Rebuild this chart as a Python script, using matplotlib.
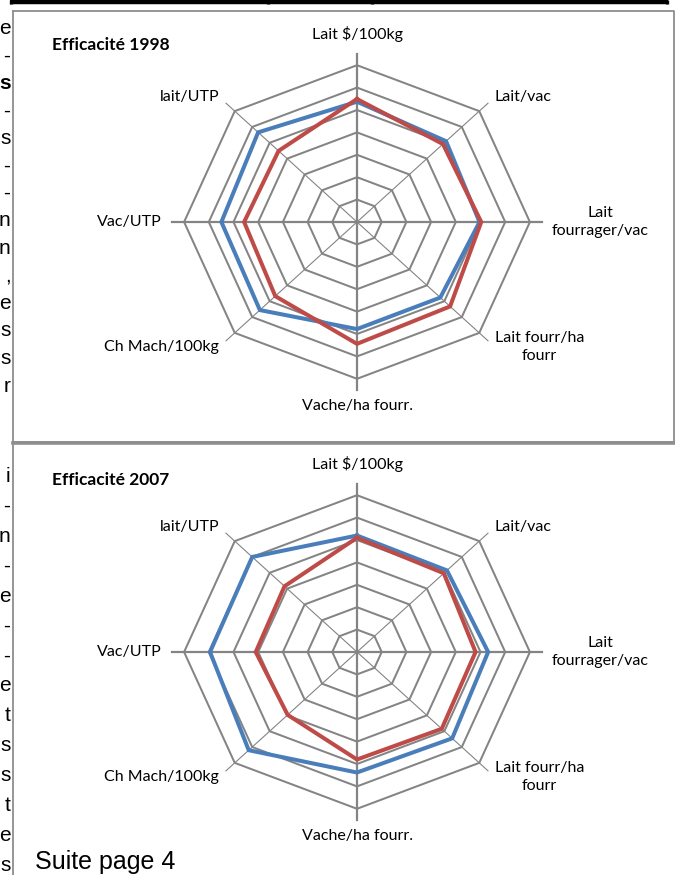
import numpy as np
import matplotlib
matplotlib.use("Agg")
import matplotlib.pyplot as plt

# radar axes, clockwise from the top
categories = ["Lait $/100kg", "Lait/vac", "Lait\nfourrager/vac", "Lait fourr/ha\nfourr",
              "Vache/ha fourr.", "Ch Mach/100kg", "Vac/UTP", "lait/UTP"]

blue_1998 = [5.37, 5.10, 4.96, 4.77, 4.78, 5.56, 5.49, 5.66]
red_1998 = [5.49, 4.92, 5.03, 5.33, 5.44, 4.68, 4.57, 4.49]
blue_2007 = [5.20, 5.15, 5.31, 5.45, 5.38, 6.20, 5.95, 6.00]
red_2007 = [5.10, 4.97, 4.80, 4.85, 4.80, 3.97, 4.10, 4.15]

titles = ["Efficacité 1998", "Efficacité 2007"]

# line ends of the neighbouring text column
margin_top = list("e-s-s--nn,essr")
margin_bottom = list("i-n-e--etsstes")

W, H = 675, 875
BLUE = "#4a7ebb"
RED = "#be4b48"
GRID = "#848484"
LAB = ["Lato", "DejaVu Sans"]

fig = plt.figure(figsize=(W / 100, H / 100), dpi=100)
page = fig.add_axes([0, 0, 1, 1])
page.set_xlim(0, W)
page.set_ylim(H, 0)
page.axis("off")

# bottom of the table above
page.plot([10, 668], [2, 2], color="black", lw=3.2, solid_capstyle="butt")
for x in [10.5, 268, 372, 666.5]:
    page.plot([x, x], [0, 4], color="black", lw=2.4, solid_capstyle="butt")

# chart frames
page.plot([13, 673.5, 673.5, 13, 13], [11, 11, 442, 442, 11], color="#8e8e8e", lw=1.3)
page.plot([13, 680], [442.5, 442.5], color="#8e8e8e", lw=2.6)
page.plot([13, 13], [442, 880], color="#8e8e8e", lw=1.3)

ys = 29 + 27.5 * np.arange(len(margin_top))
for k, (ch, y) in enumerate(zip(margin_top, ys)):
    page.text(10.5, y + 5, ch, ha="right", va="baseline", fontsize=15,
              family="Liberation Sans", fontweight="bold" if k == 2 else "normal")
ys = np.linspace(477, 866, len(margin_bottom))
for ch, y in zip(margin_bottom, ys):
    page.text(10.5, y + 5, ch, ha="right", va="baseline", fontsize=15, family="Liberation Sans")

page.text(35, 862, "Suite page 4", ha="left", va="center", fontsize=18, family="Liberation Sans")

n = len(categories)
ang = np.arange(n) * 2 * np.pi / n
ux, uy, L = 24.7, 22.4, 9.0


def radar(cx, cy, ty, title, blue, red):
    ax = fig.add_axes([(cx - L * ux) / W, (H - cy - L * uy) / H, 2 * L * ux / W, 2 * L * uy / H])
    ax.set_xlim(-L, L)
    ax.set_ylim(-L, L)
    ax.axis("off")
    sx, sy = np.sin(ang), np.cos(ang)
    # rings
    for r in range(1, 8):
        ax.plot(np.append(r * sx, r * sx[0]), np.append(r * sy, r * sy[0]), color=GRID, lw=1.45, zorder=1)
    # spokes
    for i in range(n):
        straight = i % 2 == 0
        ax.plot([0, 7.5 * sx[i]], [0, 7.5 * sy[i]], color=GRID,
                lw=1.6 if straight else 0.8, zorder=1)
    for vals, col in [(blue, BLUE), (red, RED)]:
        v = np.array(vals)
        ax.plot(np.append(v * sx, v[0] * sx[0]), np.append(v * sy, v[0] * sy[0]),
                color=col, lw=2.9, zorder=3, solid_joinstyle="miter")
    rl = 7.9
    for i, lab in enumerate(categories):
        x, y = rl * sx[i], rl * sy[i]
        if abs(sx[i]) < 1e-6:
            ha, va = "center", ("bottom" if sy[i] > 0 else "top")
            y += 0.15 if sy[i] > 0 else 0
        else:
            ha, va = ("left" if sx[i] > 0 else "right"), "center"
        ax.text(x, y, lab, ha=ha, va=va, multialignment="center", fontsize=11.5,
                family=LAB, linespacing=1.3)
    ax.text((52 - cx) / ux, (cy - ty) / uy, title, ha="left", va="center",
            fontsize=12.5, fontweight="bold", family=LAB)


radar(357, 222, 45, titles[0], blue_1998, red_1998)
radar(357, 652, 480, titles[1], blue_2007, red_2007)

fig.savefig("out.png", dpi=100)
